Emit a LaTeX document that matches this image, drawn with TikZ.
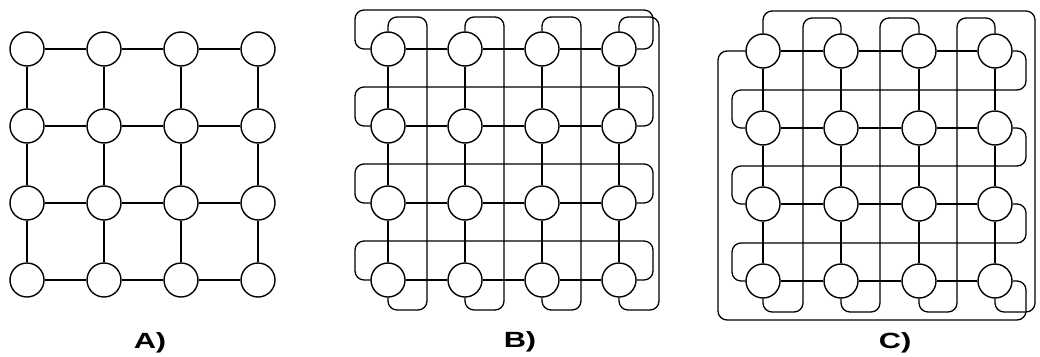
\documentclass[tikz,border=0pt]{standalone}
\usepackage{graphicx}
\usepackage{fontspec}
\setmainfont{Liberation Sans}
\tikzset{
  router/.style={circle,draw,line width=1.4pt,minimum size=34pt,inner sep=0pt},
  link/.style={line width=1.2pt},
  wrap/.style={line width=1.3pt,rounded corners=9pt},
  caption/.style={font=\fontsize{22}{22}\selectfont\bfseries}
}
\begin{document}
\begin{tikzpicture}[x=1pt,y=-1pt]
\useasboundingbox (0,0) rectangle (1040,356);
% routers of the three networks
\foreach \i/\yy in {1/49,2/126,3/203,4/280}
  \foreach \j/\xa/\xb in {1/27/388,2/104/465,3/181/542,4/258/619}
  { \node[router] (a-\i-\j) at (\xa,\yy) {};
    \node[router] (b-\i-\j) at (\xb,\yy) {}; }
\foreach \i/\yy in {1/51,2/128,3/204,4/281}
  \foreach \j/\xx in {1/763,2/841,3/919,4/995}
    \node[router] (c-\i-\j) at (\xx,\yy) {};
% mesh links
\foreach \p in {a,b,c}
  \foreach \i in {1,...,4}
    \foreach \j/\k in {1/2,2/3,3/4}
    { \draw[link] (\p-\i-\j) -- (\p-\i-\k);
      \draw[link] (\p-\j-\i) -- (\p-\k-\i); }
% B: wrap-around links
\foreach \j/\xx in {1/427,2/504,3/581,4/659}
  \draw[wrap] (b-1-\j.north) |- (\xx,17) -- (\xx,310) -| (b-4-\j.south);
\foreach \i/\yy in {1/10,2/87,3/164,4/241}
  \draw[wrap] (b-\i-1.west) -| (355,\yy) -- (653,\yy) |- (b-\i-4.east);
% C: twisted wrap-around links
\foreach \j/\k/\xx in {2/1/803,3/2/880,4/3/957}
  \draw[wrap] (c-1-\j.north) |- (\xx,18) -- (\xx,312) -| (c-4-\k.south);
\draw[wrap] (c-1-1.north) |- (1035,11) -- (1035,312) -| (c-4-4.south);
\foreach \i/\k/\yy in {1/2/90,2/3/166,3/4/243}
  \draw[wrap] (c-\i-4.east) -| (1026,\yy) -- (732,\yy) |- (c-\k-1.west);
\draw[wrap] (c-4-4.east) -| (1026,320) -- (718,320) |- (c-1-1.west);
% captions
\node[caption] (lblA) at (150,343) {\scalebox{1.4}[1]{A)}};
\node[caption] (lblB) at (520,342) {\scalebox{1.4}[1]{B)}};
\node[caption] (lblC) at (895,343) {\scalebox{1.4}[1]{C)}};
\end{tikzpicture}
\end{document}
